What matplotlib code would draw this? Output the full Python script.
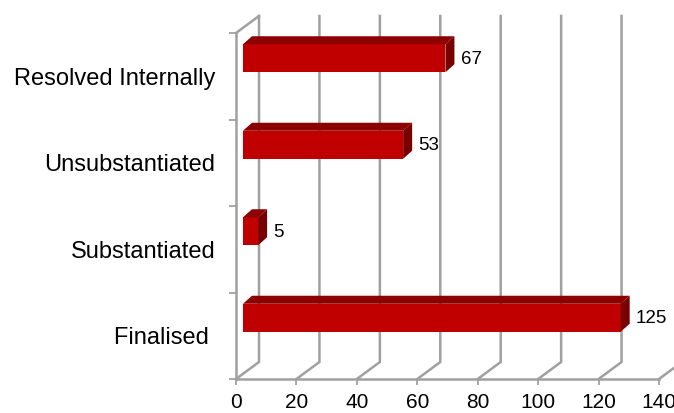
import matplotlib as mpl
mpl.use('Agg')
import matplotlib.pyplot as plt
from matplotlib.transforms import offset_copy

plt.rcParams['font.family'] = ['Liberation Sans', 'DejaVu Sans']

categories = ['Finalised ', 'Substantiated', 'Unsubstantiated', 'Resolved Internally']
values = [125, 5, 53, 67]
xticks = [0, 20, 40, 60, 80, 100, 120, 140]

GRID = '#a0a0a0'
FRONT = '#c00000'
TOP = '#8c0000'
SIDE = '#780000'

fig = plt.figure(figsize=(6.74, 4.13), dpi=100)
# axes box is the front plane of the 3d chart
ax = fig.add_axes([236 / 674, 34 / 413, 423 / 674, 346 / 413])
ax.set_xlim(0, 140)
ax.set_ylim(0, 4)

# one pixel in data units
px = 140 / 423
py = 4 / 346

# back wall, floor diagonals
back_x, back_y = 23 * px, 17 * py
for t in xticks:
    ax.plot([t, t + back_x, t + back_x], [0, back_y, 4 + back_y], color=GRID, lw=1.8,
            clip_on=False, zorder=1, solid_joinstyle='miter')
ax.plot([0, back_x], [4, 4 + back_y], color=GRID, lw=1.8, clip_on=False, zorder=1)

for s in ['top', 'right']:
    ax.spines[s].set_visible(False)
for s in ['left', 'bottom']:
    ax.spines[s].set_color(GRID)
    ax.spines[s].set_linewidth(1.8)
ax.patch.set_alpha(0)

ax.set_xticks(xticks)
ax.set_yticks([0, 1, 2, 3, 4])
ax.set_yticklabels([])
ax.tick_params(axis='x', color=GRID, width=1.3, length=4, labelsize=15, pad=6)
ax.tick_params(axis='y', color=GRID, width=1.3, length=5)
ax.set_yticks([0.5, 1.5, 2.5, 3.5], minor=True)
ax.set_yticklabels(categories, minor=True, fontsize=17)
ax.tick_params(axis='y', which='minor', length=0, pad=15)

# front face of each bar sits a bit into the depth
start_x = 7 * px
shift_y = 18 * py
bar_h = 28 * py
dep_x, dep_y = 9 * px, 8 * py
front = offset_copy(ax.transData, fig, x=7, y=18, units='dots')

for i, v in enumerate(values):
    c = i + 0.5
    ax.barh(c, v, height=bar_h, color=FRONT, linewidth=0,
            transform=front, zorder=3, clip_on=False)
    x0 = start_x
    x1 = start_x + v
    y1 = c + shift_y + bar_h / 2
    y0 = c + shift_y - bar_h / 2
    ax.fill([x0, x0 + dep_x, x1 + dep_x, x1], [y1, y1 + dep_y, y1 + dep_y, y1],
            color=TOP, lw=0, zorder=3, clip_on=False)
    ax.fill([x1, x1 + dep_x, x1 + dep_x, x1], [y0, y0 + dep_y, y1 + dep_y, y1],
            color=SIDE, lw=0, zorder=3, clip_on=False)
    ax.annotate(str(v), (x1 + dep_x, c + shift_y - 1 * py), xytext=(4.5, 0), textcoords='offset points',
                va='center', ha='left', fontsize=13.5, color='black', zorder=4, annotation_clip=False)

fig.savefig('out.png', dpi=100)
